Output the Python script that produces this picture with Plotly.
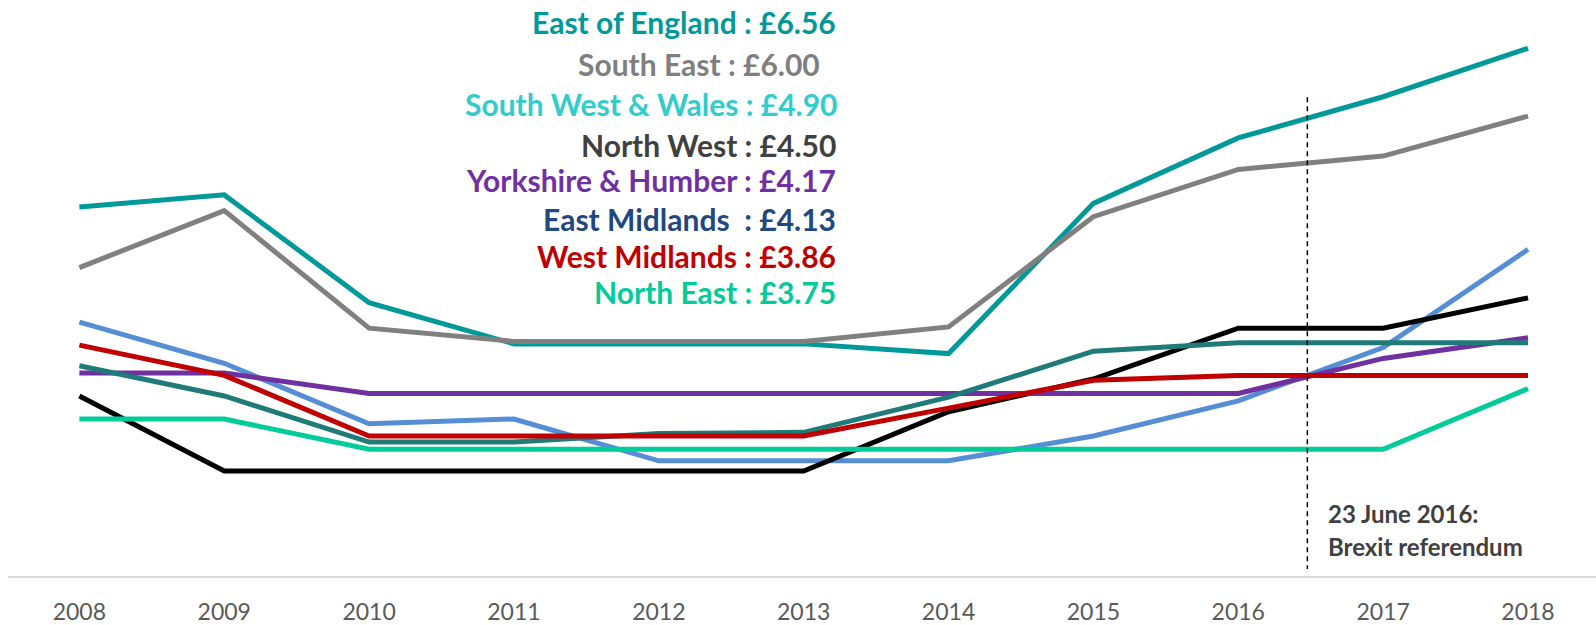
import plotly.graph_objects as go

years = [2008, 2009, 2010, 2011, 2012, 2013, 2014, 2015, 2016, 2017, 2018]
tick_labels = [str(y) for y in years]

east_of_england = [5.25, 5.35, 4.46, 4.12, 4.12, 4.12, 4.04, 5.28, 5.82, 6.16, 6.56]
south_east = [4.75, 5.22, 4.25, 4.14, 4.14, 4.14, 4.26, 5.17, 5.56, 5.67, 6.00]
south_west_wales = [4.30, 3.96, 3.46, 3.50, 3.155, 3.155, 3.155, 3.36, 3.65, 4.09, 4.90]
north_west = [3.69, 3.07, 3.07, 3.07, 3.07, 3.07, 3.56, 3.83, 4.25, 4.25, 4.50]
yorkshire_humber = [3.88, 3.88, 3.71, 3.71, 3.71, 3.71, 3.71, 3.71, 3.71, 4.00, 4.17]
east_midlands = [3.94, 3.69, 3.31, 3.31, 3.38, 3.39, 3.68, 4.06, 4.13, 4.13, 4.13]
west_midlands = [4.11, 3.86, 3.36, 3.36, 3.36, 3.36, 3.59, 3.82, 3.86, 3.86, 3.86]
north_east = [3.50, 3.50, 3.25, 3.25, 3.25, 3.25, 3.25, 3.25, 3.25, 3.25, 3.75]

label_texts = [
    "East of England : £6.56",
    "South East : £6.00",
    "South West & Wales : £4.90",
    "North West : £4.50",
    "Yorkshire & Humber : £4.17",
    "East Midlands  : £4.13",
    "West Midlands : £3.86",
    "North East : £3.75",
]

referendum_x = 2016 + 174 / 365
referendum_lines = ["23 June 2016:", "Brexit referendum"]

series = [
    (east_of_england, "#009999"),
    (south_east, "#808080"),
    (south_west_wales, "#558ED5"),
    (north_west, "#000000"),
    (yorkshire_humber, "#7030A0"),
    (east_midlands, "#1F7A78"),
    (west_midlands, "#C00000"),
    (north_east, "#00CC99"),
]
label_colors = ["#009999", "#7F7F7F", "#33CCCC", "#404040", "#7030A0", "#1F497D", "#C00000", "#00CC99"]

W, H = 1596, 625
ML, MT, MB = 8, 2, 44
PH = H - MT - MB
PW = W - ML

def px_x(p):
    return (p - ML) / PW

def px_y(p):
    return 1 - (p - MT) / PH

fig = go.Figure()
for vals, col in series:
    fig.add_trace(go.Scatter(x=years, y=vals, mode="lines",
                             line=dict(color=col, width=5),
                             hoverinfo="skip", showlegend=False))

label_y = [22, 65, 105, 146, 182, 221, 258, 295]
label_right = [838, 822, 840, 838, 838, 838, 838, 838]
for t, c, yy, xr in zip(label_texts, label_colors, label_y, label_right):
    fig.add_annotation(text=t, x=px_x(xr), y=px_y(yy), xref="paper", yref="paper",
                       xanchor="right", yanchor="middle", showarrow=False,
                       font=dict(family="Lato", size=30, color=c, weight=700))

fig.add_shape(type="line", xref="x", yref="paper", x0=referendum_x, x1=referendum_x,
              y0=px_y(98), y1=px_y(574),
              line=dict(color="#000000", width=1.5, dash="5px,4px"))

for t, yy in zip(referendum_lines, [518, 551]):
    fig.add_annotation(text=t, x=px_x(1326), y=px_y(yy), xref="paper", yref="paper",
                       xanchor="left", yanchor="middle", showarrow=False,
                       font=dict(family="Lato", size=24, color="#404040", weight=700))

ppy = 144.9
fig.update_xaxes(range=[2008 - (79.4 - ML) / ppy, 2018 + (W - 1528) / ppy],
                 tickvals=years, ticktext=tick_labels,
                 tickfont=dict(family="Lato", size=23, color="#595959"),
                 showgrid=False, zeroline=False, showline=True,
                 linecolor="#D9D9D9", linewidth=1.5,
                 ticks="outside", ticklen=15, tickcolor="rgba(0,0,0,0)", fixedrange=True)
fig.update_yaxes(range=[2.204, 6.942], visible=False, showgrid=False, zeroline=False)
fig.update_layout(width=W, height=H, margin=dict(l=ML, r=0, t=MT, b=MB),
                  plot_bgcolor="white", paper_bgcolor="white")

fig.write_html("out.html", config={"displayModeBar": False},
               post_script="document.body.style.margin='0';document.body.style.overflow='hidden';")
